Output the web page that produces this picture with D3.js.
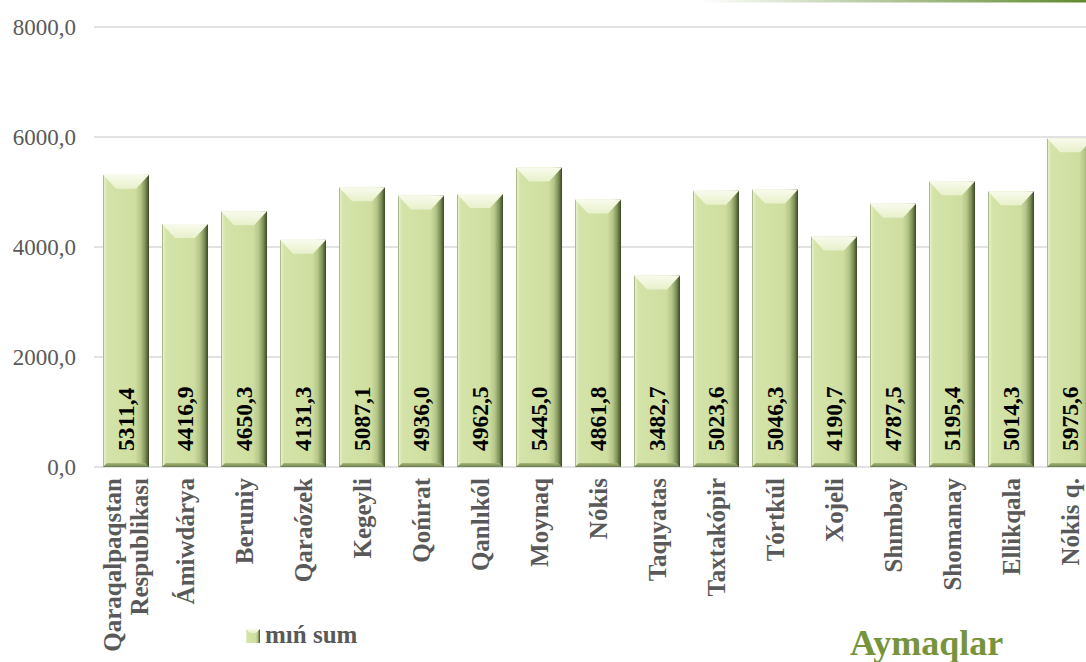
<html lang="en">
<head>
  <meta charset="utf-8" />
  <script src="https://d3js.org/d3.v7.min.js"></script>
  <style>
    body { margin: 0; background: #fff; }
    svg text { font-family: "Liberation Serif", "Times New Roman", serif; }
  </style>
</head>
<body>
<script>
  // data
  var categories = ["Qaraqalpaqstan Respublikası", "Ámiwdárya", "Beruniy", "Qaraózek", "Kegeyli",
    "Qońırat", "Qanlıkól", "Moynaq", "Nókis", "Taqıyatas", "Taxtakópir", "Tórtkúl",
    "Xojeli", "Shımbay", "Shomanay", "Ellikqala", "Nókis q."];
  var values = [5311.4, 4416.9, 4650.3, 4131.3, 5087.1, 4936.0, 4962.5, 5445.0, 4861.8,
    3482.7, 5023.6, 5046.3, 4190.7, 4787.5, 5195.4, 5014.3, 5975.6];
  var yTicks = [0, 2000, 4000, 6000, 8000];
  var seriesName = "mıń sum";
  var axisTitle = "Aymaqlar";

  var W = 1086, H = 662;
  var svg = d3.select("body").append("svg")
    .attr("width", W)
    .attr("height", H);

  var defs = svg.append("defs");

  // horizontal shading of the bar body (light left edge, dark right edge)
  var gBody = defs.append("linearGradient").attr("id", "gBody")
    .attr("x1", "0").attr("x2", "1").attr("y1", "0").attr("y2", "0");
  [["0%", "#8c9c6a"], ["3%", "#e4eec6"], ["9%", "#d4e3a8"], ["70%", "#cfdea0"], ["82%", "#b5c688"],
   ["92%", "#7d8f57"], ["100%", "#3b4626"]].forEach(function (s) {
    gBody.append("stop").attr("offset", s[0]).attr("stop-color", s[1]);
  });

  var gTop = defs.append("linearGradient").attr("id", "gTop")
    .attr("x1", "0").attr("x2", "0").attr("y1", "0").attr("y2", "1");
  gTop.append("stop").attr("offset", "0%").attr("stop-color", "#f8fbec");
  gTop.append("stop").attr("offset", "100%").attr("stop-color", "#e8f0cb");

  var gBot = defs.append("linearGradient").attr("id", "gBot")
    .attr("x1", "0").attr("x2", "0").attr("y1", "0").attr("y2", "1");
  gBot.append("stop").attr("offset", "0%").attr("stop-color", "#a9ba7c");
  gBot.append("stop").attr("offset", "100%").attr("stop-color", "#6d7d4b");

  var gLine = defs.append("linearGradient").attr("id", "gLine")
    .attr("x1", "0").attr("x2", "1").attr("y1", "0").attr("y2", "0");
  gLine.append("stop").attr("offset", "0%").attr("stop-color", "#ffffff");
  gLine.append("stop").attr("offset", "100%").attr("stop-color", "#5f8a2e");

  // thin decorative line at the top right
  svg.append("rect")
    .attr("x", 700).attr("y", 0)
    .attr("width", W - 700).attr("height", 2.5)
    .attr("fill", "url(#gLine)");

  var x = d3.scaleBand()
    .domain(categories)
    .range([96.5, 1099.5])
    .paddingInner(0.22)
    .paddingOuter(0.11);

  var y = d3.scaleLinear()
    .domain([0, 8000])
    .range([467, 27]);

  var fmt = function (v) { return d3.format(".1f")(v).replace(".", ","); };

  // grid lines
  svg.append("g").selectAll("line")
    .data(yTicks)
    .join("line")
    .attr("x1", 94).attr("x2", W)
    .attr("y1", function (d) { return y(d); })
    .attr("y2", function (d) { return y(d); })
    .attr("stroke", "#d9d9d9")
    .attr("stroke-width", 1.5);

  // y axis labels
  svg.append("g").selectAll("text")
    .data(yTicks)
    .join("text")
    .attr("x", 76)
    .attr("y", function (d) { return y(d); })
    .attr("dy", "0.35em")
    .attr("text-anchor", "end")
    .attr("font-size", 23)
    .attr("fill", "#595959")
    .text(fmt);

  // bars with a bevel look
  var bev = 13, bevTop = 14, bevBot = 4;
  var bars = svg.append("g").selectAll("g")
    .data(values)
    .join("g")
    .attr("transform", function (d, i) { return "translate(" + x(categories[i]) + ",0)"; });

  bars.append("rect")
    .attr("x", 0)
    .attr("y", function (d) { return y(d); })
    .attr("width", x.bandwidth())
    .attr("height", function (d) { return y(0) - y(d); })
    .attr("fill", "url(#gBody)");

  bars.append("path")
    .attr("d", function (d) {
      var w = x.bandwidth(), t = y(d);
      return "M0," + t + "L" + w + "," + t + "L" + (w - bev) + "," + (t + bevTop) +
        "L" + bev + "," + (t + bevTop) + "Z";
    })
    .attr("fill", "url(#gTop)");

  bars.append("path")
    .attr("d", function (d) {
      var w = x.bandwidth(), b = y(0);
      return "M0," + b + "L" + w + "," + b + "L" + (w - bevBot) + "," + (b - bevBot) +
        "L" + bevBot + "," + (b - bevBot) + "Z";
    })
    .attr("fill", "url(#gBot)");

  // value labels inside the bars
  bars.append("text")
    .attr("transform", "translate(" + (x.bandwidth() / 2) + "," + 451 + ") rotate(-90)")
    .attr("dy", "0.35em")
    .attr("text-anchor", "start")
    .attr("font-size", 23.5)
    .attr("font-weight", "bold")
    .attr("fill", "#000")
    .text(fmt);

  // category labels
  var cats = svg.append("g").selectAll("text")
    .data(categories)
    .join("text")
    .attr("transform", function (d) {
      return "translate(" + (x(d) + x.bandwidth() / 2) + ",478) rotate(-90)";
    })
    .attr("text-anchor", "end")
    .attr("font-size", 25)
    .attr("font-weight", "bold")
    .attr("fill", "#595959");

  cats.each(function (d) {
    var words = d.split(" ");
    var t = d3.select(this);
    if (words.length > 1 && d.length > 14) {
      t.append("tspan").attr("x", 0).attr("y", 0).attr("dy", "-0.2em").text(words[0]);
      t.append("tspan").attr("x", 0).attr("y", 0).attr("dy", "0.88em").text(words.slice(1).join(" "));
    } else {
      t.append("tspan").attr("x", 0).attr("y", 0).attr("dy", "0.35em").text(d);
    }
  });

  // legend
  var leg = svg.append("g").attr("transform", "translate(246,629)");
  leg.append("rect")
    .attr("width", 14).attr("height", 14)
    .attr("fill", "url(#gBody)");
  leg.append("path")
    .attr("d", "M0,0L14,0L10,4L4,4Z")
    .attr("fill", "url(#gTop)");
  leg.append("text")
    .attr("x", 19).attr("y", 14)
    .attr("font-size", 25)
    .attr("font-weight", "bold")
    .attr("fill", "#595959")
    .text(seriesName);

  // axis title
  svg.append("text")
    .attr("x", 850).attr("y", 655)
    .attr("font-size", 36)
    .attr("font-weight", "bold")
    .attr("fill", "#77933c")
    .text(axisTitle);
</script>
</body>
</html>
